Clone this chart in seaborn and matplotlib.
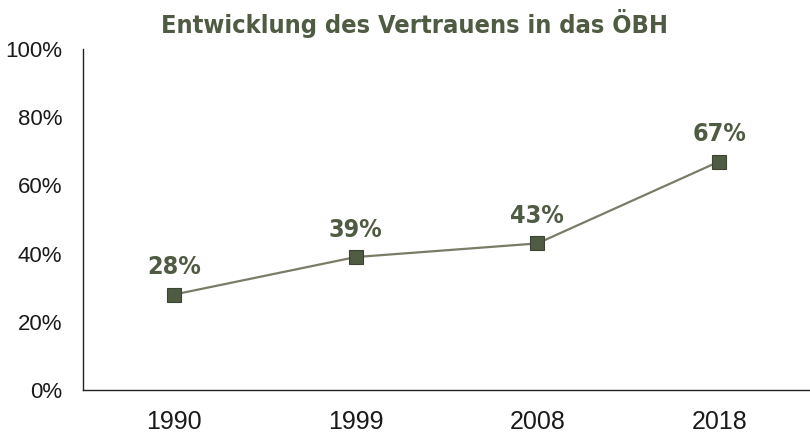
import numpy as np
import pandas as pd
import matplotlib.pyplot as plt
import seaborn as sns
from matplotlib.ticker import PercentFormatter

years = ['1990', '1999', '2008', '2018']
trust = [28, 39, 43, 67]

df = pd.DataFrame({'pos': np.arange(len(years)), 'trust': trust})

sns.set_style('white')
plt.rcParams['font.family'] = ['Liberation Sans', 'DejaVu Sans']
cond = ['DejaVu Sans Condensed', 'DejaVu Sans']

fig = plt.figure(figsize=(8.1, 4.33), dpi=100)
ax = fig.add_axes([0.1025, 0.099, 0.8975, 0.788])

dark = '#4f5b42'
sns.lineplot(data=df, x='pos', y='trust', ax=ax, color='#7a7c68', linewidth=1.6,
             marker='s', markersize=10.5, markerfacecolor=dark, markeredgecolor='#3c4532',
             markeredgewidth=0.8)

# value labels above the markers
for x, v in zip(df['pos'], df['trust']):
    ax.annotate(f'{v}%', (x, v), xytext=(0, 11), textcoords='offset points',
                ha='center', va='bottom', fontsize=18, fontweight='bold', color=dark,
                family=cond, fontstretch='condensed')

ax.set_xlim(-0.5, 3.5)
ax.set_ylim(0, 100)
ax.set_yticks(range(0, 101, 20))
ax.yaxis.set_major_formatter(PercentFormatter(decimals=0))
ax.set_xticks(df['pos'])
ax.set_xticklabels(years)
ax.tick_params(axis='both', length=0, colors='#1a1a1a')
ax.tick_params(axis='y', pad=15, labelsize=16)
ax.tick_params(axis='x', pad=14, labelsize=18)
ax.set_xlabel('')
ax.set_ylabel('')
for side in ['top', 'right']:
    ax.spines[side].set_visible(False)
for side in ['left', 'bottom']:
    ax.spines[side].set_color('#222222')
    ax.spines[side].set_linewidth(1.0)

fig.text(0.512, 0.945, 'Entwicklung des Vertrauens in das ÖBH', ha='center', va='center',
         fontsize=18.2, fontweight='bold', color=dark,
         family=cond, fontstretch='condensed')

fig.savefig('out.png', dpi=100)
